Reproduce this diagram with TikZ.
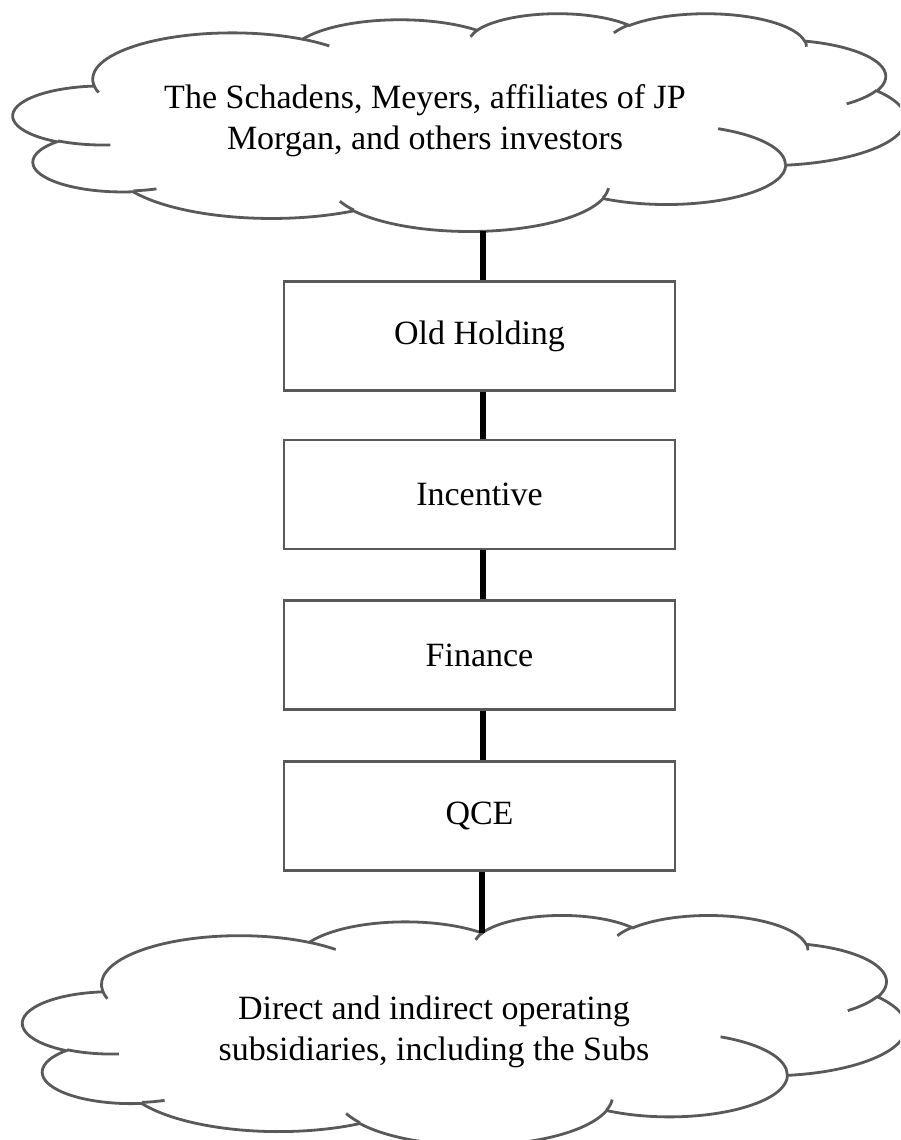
\documentclass[tikz,border=0pt]{standalone}
\usepackage{fontspec}
\setmainfont{Liberation Serif}
\definecolor{shapegray}{HTML}{595959}

% Word style cloud, drawn in units of 1/100 of its 432 x 432 frame
\newcommand{\wordcloud}{%
  \draw[cloudline] (39.00,-143.70)
    arc[start angle=-172.25, delta angle=-128.11, x radius=67.53, y radius=91.90]
    arc[start angle=152.02, delta angle=-106.56, x radius=53.33, y radius=72.67]
    arc[start angle=153.50, delta angle=-116.15, x radius=43.65, y radius=59.45]
    arc[start angle=139.72, delta angle=-129.51, x radius=48.57, y radius=65.95]
    arc[start angle=74.77, delta angle=-97.98, x radius=53.33, y radius=72.73]
    arc[start angle=37.52, delta angle=-119.38, x radius=67.75, y radius=92.20]
    arc[start angle=-0.46, delta angle=-121.51, x radius=57.85, y radius=78.67]
    arc[start angle=-16.84, delta angle=-129.39, x radius=67.52, y radius=92.15]
    arc[start angle=-58.98, delta angle=-91.20, x radius=77.20, y radius=105.43]
    arc[start angle=-83.31, delta angle=-139.79, x radius=43.60, y radius=59.18]
    arc[start angle=-120.36, delta angle=-143.75, x radius=43.45, y radius=59.45]
    -- cycle;
  % inner hooks
  \draw[cloudline]
    (46.93,-261.77) arc[start angle=-85.55, delta angle=-34.82, x radius=43.45, y radius=59.45]
    (69.28,-348.99) arc[start angle=-68.23, delta angle=-15.08, x radius=43.60, y radius=59.18]
    (164.78,-390.90) arc[start angle=-146.23, delta angle=-12.24, x radius=67.52, y radius=92.15]
    (288.27,-347.51) arc[start angle=-4.74, delta angle=-12.10, x radius=67.52, y radius=92.15]
    (341.29,-229.54) arc[start angle=64.03, delta angle=-64.49, x radius=57.85, y radius=78.67]
    (417.98,-153.54) arc[start angle=-23.21, delta angle=-26.43, x radius=53.33, y radius=72.73]
    (383.24,-54.26) arc[start angle=10.21, delta angle=-11.03, x radius=48.57, y radius=65.95]
    (290.78,-39.52) arc[start angle=156.29, delta angle=-16.57, x radius=48.57, y radius=65.95]
    (221.41,-47.20) arc[start angle=167.73, delta angle=-14.23, x radius=43.65, y radius=59.45]
    (140.00,-51.92) arc[start angle=59.64, delta angle=-13.89, x radius=67.53, y radius=91.90]
    (41.27,-157.89) arc[start angle=-163.19, delta angle=-9.06, x radius=67.53, y radius=91.90];
}

\begin{document}
\begin{tikzpicture}[x=0.5pt, y=0.5pt]
    % Styles
    \tikzset{
        cloudline/.style={draw=shapegray, line width=1.4pt},
        entity/.style={draw=shapegray, line width=1.4pt, minimum width=195.5pt,
            minimum height=54.5pt, inner sep=0pt, font=\fontsize{17}{20.5}\selectfont},
        cloudtext/.style={align=center, inner sep=0pt, font=\fontsize{17}{20.5}\selectfont},
        link/.style={draw=black, line width=3.3pt}
    }
    \useasboundingbox (0,0) rectangle (900,-1140);
    \clip (0,0) rectangle (900,-1140);

    % --- INVESTORS CLOUD ---
    \begin{scope}[shift={(13.4,-13)}, x=1.0325pt, y=0.252pt]
        \wordcloud
        \coordinate (cloudtop-s) at (227.41,-433.13);
    \end{scope}
    \node[cloudtext] (investors) at (425,-121)
        {The Schadens, Meyers, affiliates of JP\\Morgan, and others investors};

    % --- HOLDING CHAIN ---
    \node[entity] (oldholding) at (479.5,-336) {Old Holding};
    \node[entity] (incentive) at (479.5,-494.5) {Incentive};
    \node[entity] (finance) at (479.5,-655) {Finance};
    \node[entity] (qce) at (479.5,-816) {QCE};

    % --- SUBSIDIARIES CLOUD ---
    \begin{scope}[shift={(23,-914.7)}, x=1.022pt, y=0.266pt]
        \wordcloud
        \coordinate (cloudbot-n) at (224.55,-34.32);
    \end{scope}
    \node[cloudtext] (subs) at (434,-1032)
        {Direct and indirect operating\\subsidiaries, including the Subs};

    % Connectors
    \draw[link] (cloudtop-s) -- (cloudtop-s |- oldholding.north);
    \foreach \upper/\lower in {oldholding/incentive, incentive/finance, finance/qce}
        \draw[link] (\upper.south -| cloudtop-s) -- (cloudtop-s |- \lower.north);
    \draw[link] (qce.south -| cloudbot-n) -- (cloudbot-n);
\end{tikzpicture}
\end{document}
